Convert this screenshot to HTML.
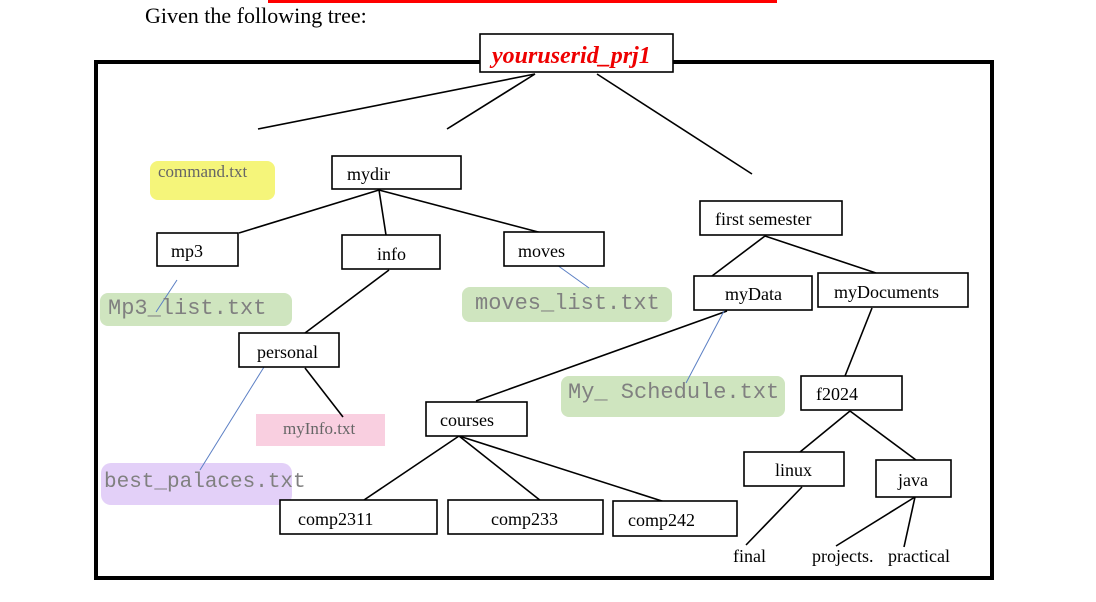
<!DOCTYPE html>
<html><head><meta charset="utf-8"><style>
body{margin:0;background:#fff;width:1096px;height:602px;overflow:hidden}
svg{display:block}
text{font-family:"Liberation Serif",serif;font-size:18px;fill:#000}
.m{font-family:"Liberation Mono",monospace;font-size:22px;fill:#808080}
</style></head><body>
<svg width="1096" height="602" viewBox="0 0 1096 602">
<rect x="268" y="0" width="509" height="3" fill="#f00"/>
<text x="145" y="23" style="font-size:22px">Given the following tree:</text>
<rect x="96" y="62" width="896" height="516" fill="none" stroke="#000" stroke-width="4"/>
<!-- highlights -->
<rect x="150" y="161" width="125" height="39" rx="8" fill="#f5f57a"/>
<rect x="100" y="293" width="192" height="33" rx="8" fill="#cfe5bf"/>
<rect x="462" y="287" width="210" height="35" rx="8" fill="#cfe5bf"/>
<rect x="561" y="376" width="224" height="41" rx="8" fill="#cfe5bf"/>
<rect x="256" y="414" width="129" height="32" fill="#f9cfe0"/>
<rect x="101" y="463" width="191" height="42" rx="10" fill="#e3d0f8"/>
<g stroke="#000" stroke-width="1.6" fill="none">
<line x1="535" y1="74" x2="258" y2="129"/>
<line x1="535" y1="74" x2="447" y2="129"/>
<line x1="597" y1="74" x2="752" y2="174"/>
<line x1="379" y1="190" x2="239" y2="233"/>
<line x1="379" y1="190" x2="386" y2="235"/>
<line x1="379" y1="190" x2="542" y2="233"/>
<line x1="389" y1="270" x2="305" y2="333"/>
<line x1="305" y1="368" x2="343" y2="417"/>
<line x1="765" y1="236" x2="712" y2="276"/>
<line x1="765" y1="236" x2="876" y2="273"/>
<line x1="727" y1="311" x2="476" y2="401"/>
<line x1="872" y1="308" x2="845" y2="376"/>
<line x1="850" y1="411" x2="800" y2="452"/>
<line x1="850" y1="411" x2="916" y2="460"/>
<line x1="459" y1="436" x2="364" y2="500"/>
<line x1="459" y1="436" x2="541" y2="501"/>
<line x1="459" y1="436" x2="665" y2="502"/>
<line x1="802" y1="487" x2="746" y2="545"/>
<line x1="915" y1="497" x2="836" y2="546"/>
<line x1="915" y1="497" x2="904" y2="547"/>
</g>
<g stroke="#5b7fc4" stroke-width="1" fill="none">
<line x1="177" y1="280" x2="156" y2="312"/>
<line x1="557" y1="265" x2="589" y2="288"/>
<line x1="264" y1="367" x2="200" y2="470"/>
<line x1="724" y1="311" x2="686" y2="383"/>
</g>
<g fill="#fff" stroke="#000" stroke-width="1.6">
<rect x="480" y="34" width="193" height="38"/>
<rect x="332" y="156" width="129" height="33"/>
<rect x="157" y="233" width="81" height="33"/>
<rect x="342" y="235" width="98" height="34"/>
<rect x="504" y="232" width="100" height="34"/>
<rect x="700" y="201" width="142" height="34"/>
<rect x="694" y="276" width="118" height="34"/>
<rect x="818" y="273" width="150" height="34"/>
<rect x="239" y="333" width="100" height="34"/>
<rect x="426" y="402" width="101" height="34"/>
<rect x="801" y="376" width="101" height="34"/>
<rect x="744" y="452" width="100" height="34"/>
<rect x="876" y="460" width="75" height="37"/>
<rect x="280" y="500" width="157" height="34"/>
<rect x="448" y="500" width="155" height="34"/>
<rect x="613" y="501" width="124" height="35"/>
</g>
<text x="492" y="63" style="font-size:24px;font-weight:bold;font-style:italic;fill:#e00">youruserid_prj1</text>
<text x="158" y="177" style="fill:#666;font-size:17px">command.txt</text>
<text x="347" y="180">mydir</text>
<text x="171" y="257">mp3</text>
<text x="377" y="260">info</text>
<text x="518" y="257">moves</text>
<text x="715" y="225">first semester</text>
<text x="725" y="300">myData</text>
<text x="834" y="298">myDocuments</text>
<text x="257" y="358">personal</text>
<text x="440" y="426">courses</text>
<text x="816" y="400">f2024</text>
<text x="775" y="476">linux</text>
<text x="898" y="486">java</text>
<text x="298" y="525">comp2311</text>
<text x="491" y="525">comp233</text>
<text x="628" y="526">comp242</text>
<text x="283" y="434" style="fill:#666;font-size:17px">myInfo.txt</text>
<text x="733" y="562">final</text>
<text x="812" y="562">projects.</text>
<text x="888" y="562">practical</text>
<text class="m" x="108" y="314">Mp3_list.txt</text>
<text class="m" x="475" y="309">moves_list.txt</text>
<text class="m" x="568" y="398">My_ Schedule.txt</text>
<text class="m" x="104" y="487" style="font-size:21px">best_palaces.txt</text>
</svg>
</body></html>
